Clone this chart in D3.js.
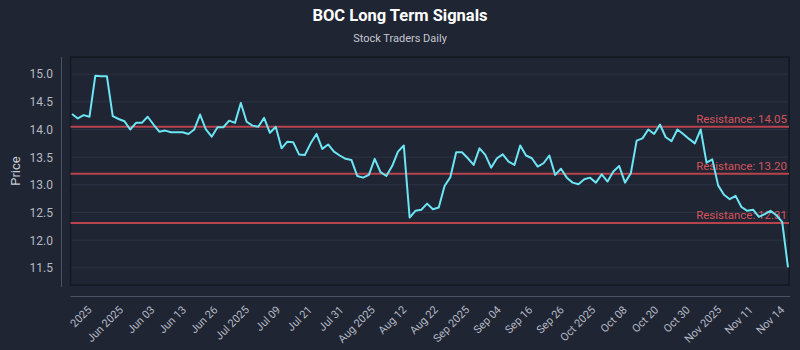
<!DOCTYPE html>
<html>
<head>
<meta charset="utf-8">
<script src="https://cdn.jsdelivr.net/npm/d3@7"></script>
<style>
  body { margin: 0; background: #1f2533; }
  svg { display: block; }
</style>
</head>
<body>
<svg id="chart" width="800" height="350"></svg>
<script>
// closing prices, one per trading day
const prices = [
  14.28, 14.20, 14.26, 14.23, 14.97, 14.96, 14.96, 14.24, 14.19, 14.15, 14.00, 14.12, 14.12, 14.23, 14.09, 13.96,
  13.98, 13.95, 13.95, 13.95, 13.92, 14.00, 14.27, 14.00, 13.87, 14.04, 14.04, 14.16, 14.12, 14.48, 14.14,
  14.07, 14.05, 14.21, 13.94, 14.05, 13.66, 13.78, 13.77, 13.55, 13.54, 13.75, 13.92, 13.65, 13.73, 13.60,
  13.53, 13.47, 13.45, 13.16, 13.13, 13.18, 13.47, 13.23, 13.16, 13.34, 13.60, 13.71, 12.41, 12.53, 12.55, 12.66,
  12.56, 12.59, 12.98, 13.14, 13.59, 13.59, 13.48, 13.36, 13.66, 13.54, 13.31, 13.48, 13.55, 13.42, 13.36,
  13.71, 13.53, 13.48, 13.33, 13.39, 13.53, 13.18, 13.29, 13.13, 13.04, 13.01, 13.10, 13.13, 13.04, 13.19, 13.06,
  13.24, 13.34, 13.04, 13.21, 13.80, 13.84, 14.00, 13.92, 14.09, 13.86, 13.79, 14.00, 13.92, 13.83, 13.75,
  14.00, 13.40, 13.46, 12.99, 12.82, 12.74, 12.80, 12.60, 12.53, 12.55, 12.42, 12.47, 12.53, 12.45, 12.33, 11.51
];

const resistance = [14.05, 13.20, 12.31];

const xTickLabels = ["2025", "Jun 2025", "Jun 03", "Jun 13", "Jun 26", "Jul 2025", "Jul 09", "Jul 21",
  "Jul 31", "Aug 2025", "Aug 12", "Aug 22", "Sep 2025", "Sep 04", "Sep 16", "Sep 26", "Oct 2025",
  "Oct 08", "Oct 20", "Oct 30", "Nov 2025", "Nov 11", "Nov 14"];

const yTicks = [11.5, 12.0, 12.5, 13.0, 13.5, 14.0, 14.5, 15.0];

const svg = d3.select('#chart');
const font = 'Roboto, "Open Sans", sans-serif';

// plot frame
const plotL = 70.5, plotR = 789, plotT = 57, plotB = 285;

const x = d3.scaleLinear().domain([0, prices.length - 1]).range([72, 788]);
const y = d3.scaleLinear().domain([11.19, 15.31]).range([plotB, plotT]);

// title
svg.append('text')
  .attr('x', 400).attr('y', 21)
  .attr('text-anchor', 'middle')
  .attr('font-family', font).attr('font-weight', 'bold').attr('font-size', 16.5)
  .attr('fill', '#ffffff')
  .text('BOC Long Term Signals');

svg.append('text')
  .attr('x', 400).attr('y', 42)
  .attr('text-anchor', 'middle')
  .attr('font-family', font).attr('font-size', 11)
  .attr('fill', '#c3c7d0')
  .text('Stock Traders Daily');

// gridlines
svg.append('g')
  .selectAll('line')
  .data(yTicks)
  .join('line')
  .attr('x1', plotL).attr('x2', plotR)
  .attr('y1', d => y(d)).attr('y2', d => y(d))
  .attr('stroke', '#2c3343').attr('stroke-width', 1);

svg.append('rect')
  .attr('x', plotL).attr('y', plotT)
  .attr('width', plotR - plotL).attr('height', plotB - plotT)
  .attr('fill', 'none').attr('stroke', '#131822').attr('stroke-width', 1.5);

// y axis
const yAxis = svg.append('g')
  .attr('transform', 'translate(61,0)')
  .call(d3.axisLeft(y).tickValues(yTicks).tickFormat(d3.format('.1f')).tickSize(0).tickPadding(8));
yAxis.select('.domain').attr('stroke', '#4a5263').attr('d', `M0.5,${plotT}V287`);
yAxis.selectAll('text')
  .attr('font-family', font).attr('font-size', 12).attr('fill', '#b4b9c4');

svg.append('text')
  .attr('transform', `translate(20,${(plotT + plotB) / 2}) rotate(-90)`)
  .attr('text-anchor', 'middle')
  .attr('font-family', font).attr('font-size', 13)
  .attr('fill', '#c8ccd4')
  .text('Price');

// x axis
const tickStart = 3.4, tickStep = 5.41;
const xTickPos = xTickLabels.map((d, i) => tickStart + i * tickStep);

const xAxis = svg.append('g')
  .attr('transform', 'translate(0,296.5)')
  .call(d3.axisBottom(x).tickValues(xTickPos).tickFormat((d, i) => xTickLabels[i]).tickSize(0));
xAxis.select('.domain').attr('stroke', '#4a5263').attr('d', `M${plotL},0H790`);
xAxis.selectAll('text')
  .attr('font-family', font).attr('font-size', 11).attr('fill', '#b4b9c4')
  .attr('text-anchor', 'end')
  .attr('y', 0).attr('dy', null)
  .attr('transform', 'translate(0,14) rotate(-45)');

// resistance lines
svg.append('g')
  .selectAll('line')
  .data(resistance)
  .join('line')
  .attr('x1', plotL).attr('x2', plotR)
  .attr('y1', d => y(d)).attr('y2', d => y(d))
  .attr('stroke', '#c9474f').attr('stroke-width', 2).attr('opacity', 0.9);

svg.append('g')
  .selectAll('text')
  .data(resistance)
  .join('text')
  .attr('x', 787).attr('y', d => y(d) - 4)
  .attr('text-anchor', 'end')
  .attr('font-family', font).attr('font-size', 11.5)
  .attr('fill', '#d4545b')
  .text(d => 'Resistance: ' + d.toFixed(2));

// price line
const line = d3.line()
  .x((d, i) => x(i))
  .y(d => y(d));

svg.append('path')
  .datum(prices)
  .attr('d', line)
  .attr('fill', 'none')
  .attr('stroke', '#6ce5f5')
  .attr('stroke-width', 2)
  .attr('stroke-linejoin', 'round');
</script>
</body>
</html>
